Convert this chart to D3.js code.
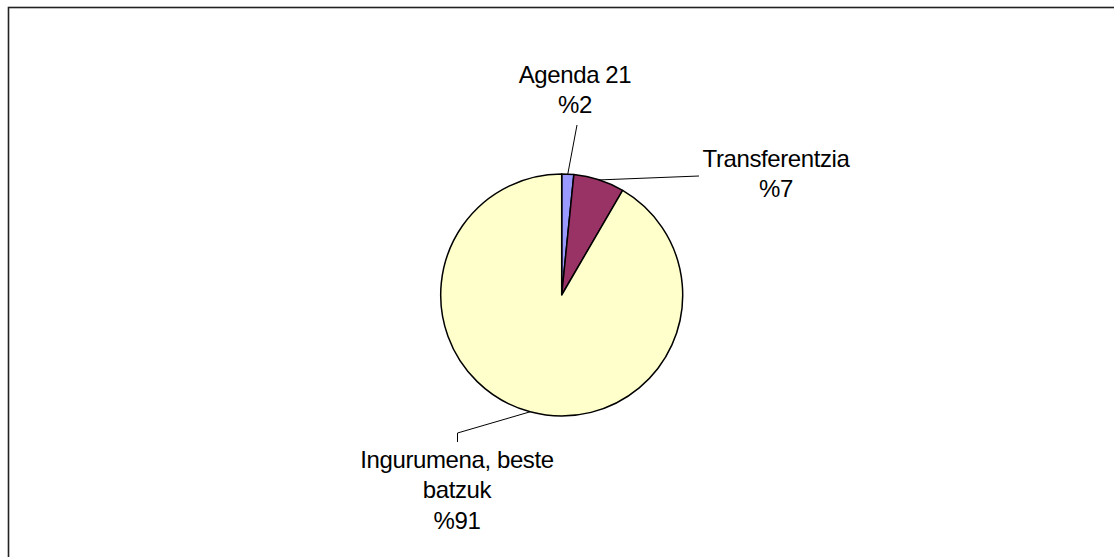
<!DOCTYPE html>
<html>
<head>
<meta charset="utf-8">
<script src="https://cdn.jsdelivr.net/npm/d3@7"></script>
<style>
  html, body { margin: 0; padding: 0; background: #fff; }
  svg { display: block; }
  text { font-family: "Liberation Sans", Arial, sans-serif; font-size: 24px; letter-spacing: -0.4px; fill: #000; }
</style>
</head>
<body>
<svg id="chart" width="1114" height="557"></svg>
<script>
// slice data
const categories = ["Agenda 21", "Transferentzia", "Ingurumena, beste batzuk"];
const values = [1.6, 6.8, 91.6];
const labelLines = [["Agenda 21"], ["Transferentzia"], ["Ingurumena, beste", "batzuk"]];
const percentLabels = ["%2", "%7", "%91"];
const colors = ["#9999ff", "#993366", "#ffffcc"];

const width = 1114, height = 557;
const cx = 561.7, cy = 295, radius = 121;

// label anchor (x center, first baseline) and leader line end, per slice
const labelPos = [
    { x: 575, y: 82.5, lineEnd: [577, 125], elbow: null },
    { x: 776, y: 166.5, lineEnd: [699, 176], elbow: null },
    { x: 457, y: 467.5, lineEnd: [457.5, 433], elbow: [457.5, 442] }
];
const lineHeight = 30.5;

const svg = d3.select("#chart");

// outer frame
svg.append("rect")
    .attr("x", 8.5).attr("y", 7.5)
    .attr("width", 1200).attr("height", 700)
    .attr("fill", "none")
    .attr("stroke", "#222")
    .attr("stroke-width", 1.6);

const pie = d3.pie().sort(null).value(d => d);
const arcs = pie(values);
const arc = d3.arc().innerRadius(0).outerRadius(radius);

const g = svg.append("g").attr("transform", `translate(${cx},${cy})`);

g.selectAll("path.slice")
    .data(arcs)
    .enter().append("path")
    .attr("class", "slice")
    .attr("d", arc)
    .attr("fill", (d, i) => colors[i])
    .attr("stroke", "#000")
    .attr("stroke-width", 1.5)
    .attr("stroke-linejoin", "round");

// leader lines from slice edge midpoint
arcs.forEach((d, i) => {
    const mid = (d.startAngle + d.endAngle) / 2;
    const sx = cx + radius * Math.sin(mid);
    const sy = cy - radius * Math.cos(mid);
    const p = labelPos[i];
    const pts = [[sx, sy], p.lineEnd];
    if (p.elbow) pts.push(p.elbow);
    svg.append("path")
        .attr("d", d3.line()(pts))
        .attr("fill", "none")
        .attr("stroke", "#000")
        .attr("stroke-width", 1);

    const lines = labelLines[i].concat([percentLabels[i]]);
    const t = svg.append("text")
        .attr("text-anchor", "middle");
    lines.forEach((s, j) => {
        t.append("tspan")
            .attr("x", p.x)
            .attr("y", p.y + j * lineHeight)
            .text(s);
    });
});
</script>
</body>
</html>
